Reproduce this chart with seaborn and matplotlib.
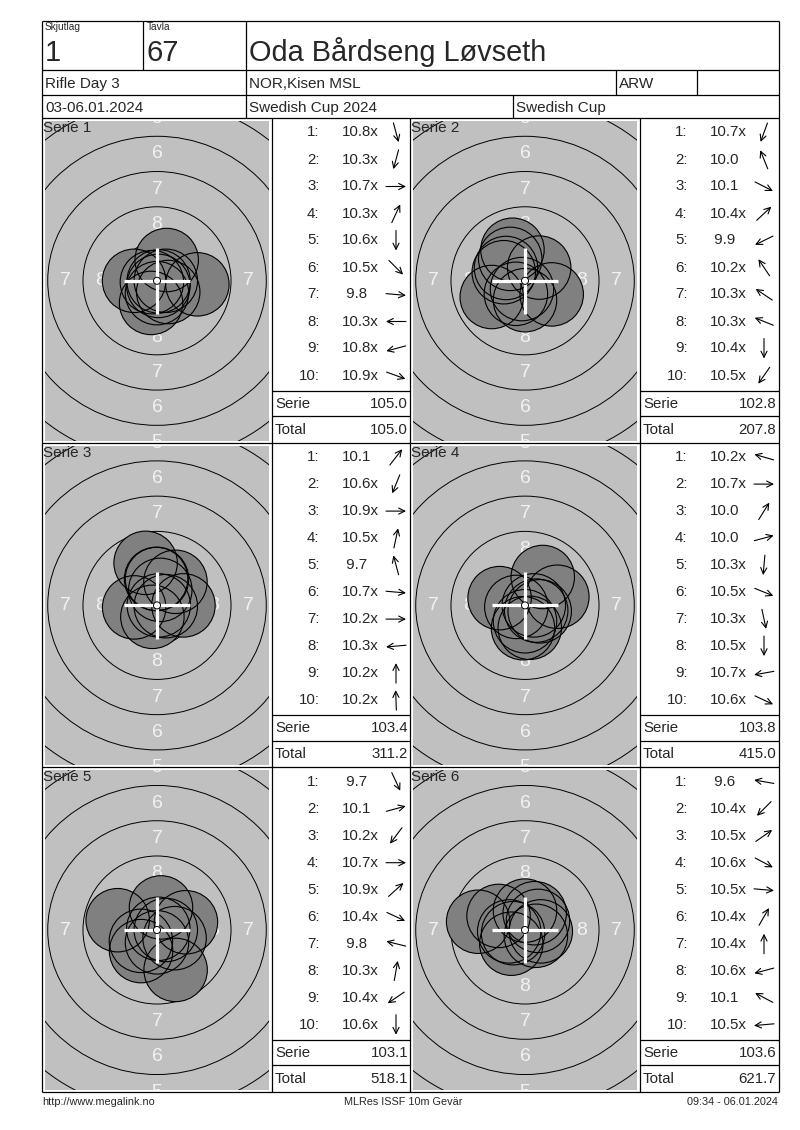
import matplotlib
matplotlib.use("Agg")
import matplotlib.pyplot as plt
from matplotlib.patches import Circle
import seaborn as sns
import numpy as np
import pandas as pd

sns.set_style("white")
plt.rcParams['font.family'] = ['Liberation Sans', 'DejaVu Sans']

# header texts
squad = "1"
lane = "67"
shooter = "Oda Bårdseng Løvseth"
event = "Rifle Day 3"
club = "NOR,Kisen MSL"
klass = "ARW"
dates = "03-06.01.2024"
competition = "Swedish Cup 2024"
cup = "Swedish Cup"
footer_left = "http://www.megalink.no"
footer_mid = "MLRes ISSF 10m Gevär"
footer_right = "09:34 - 06.01.2024"

# shot values and direction (degrees, counter clockwise from 3 o'clock)
shots_1 = ["10.8x", "10.3x", "10.7x", "10.3x", "10.6x", "10.5x", "9.8", "10.3x", "10.8x", "10.9x"]
dirs_1 = [-75, -105, 0, 65, -90, -45, -5, 180, 195, -20]
shots_2 = ["10.7x", "10.0", "10.1", "10.4x", "9.9", "10.2x", "10.3x", "10.3x", "10.4x", "10.5x"]
dirs_2 = [-110, 112, -27, 43, 206, 124, 146, 158, -90, -125]
shots_3 = ["10.1", "10.6x", "10.9x", "10.5x", "9.7", "10.7x", "10.2x", "10.3x", "10.2x", "10.2x"]
dirs_3 = [52, -112, 0, 78, 105, -5, 0, 185, 90, 92]
shots_4 = ["10.2x", "10.7x", "10.0", "10.0", "10.3x", "10.5x", "10.3x", "10.5x", "10.7x", "10.6x"]
dirs_4 = [164, 0, 58, 15, -95, -22, -78, -90, 190, -25]
shots_5 = ["9.7", "10.1", "10.2x", "10.7x", "10.9x", "10.4x", "9.8", "10.3x", "10.4x", "10.6x"]
dirs_5 = [-65, 15, 233, 0, 42, -25, 166, 80, 214, -90]
shots_6 = ["9.6", "10.4x", "10.5x", "10.6x", "10.5x", "10.4x", "10.4x", "10.6x", "10.1", "10.5x"]
dirs_6 = [170, 225, 35, -28, -5, 60, 90, 195, 152, 185]

serie_sums = ["105.0", "102.8", "103.4", "103.8", "103.1", "103.6"]
running_totals = ["105.0", "207.8", "311.2", "415.0", "518.1", "621.7"]

all_shots = [shots_1, shots_2, shots_3, shots_4, shots_5, shots_6]
all_dirs = [dirs_1, dirs_2, dirs_3, dirs_4, dirs_5, dirs_6]

# target geometry (ISSF 10m air rifle, mm)
ring_r = [(45.5 - 5 * (k - 1)) / 2 for k in range(1, 11)]
pellet_r = 2.25
px_per_mm = 14.1

W, H = 800, 1130
fig = plt.figure(figsize=(W / 100, H / 100), dpi=100)

col_dx = 368
row_dy = 324.6
top = 118


def px_axes(x, y, w, h):
    return fig.add_axes([x / W, 1 - (y + h) / H, w / W, h / H])


# targets
for i in range(6):
    col, row = i % 2, i // 2
    gx = 45 + col * col_dx
    gy = top + 3 + row * row_dy
    gw, gh = 224, row_dy - 5
    ax = px_axes(gx, gy, gw, gh)
    ax.set_facecolor('#c0c0c0')
    hx = gw / 2 / px_per_mm
    hy = gh / 2 / px_per_mm
    ax.set_xlim(-hx, hx)
    ax.set_ylim(-hy, hy)
    ax.set_xticks([])
    ax.set_yticks([])
    for s in ax.spines.values():
        s.set_visible(False)

    for r in ring_r[:9]:
        ax.add_patch(Circle((0, 0), r, fill=False, lw=0.7, ec='black', zorder=1))
    for k in range(1, 9):
        rm = (ring_r[k - 1] + ring_r[k]) / 2
        for px, py in [(0, rm), (0, -rm), (rm, 0), (-rm, 0)]:
            if abs(px) > hx or abs(py) > hy + 0.5:
                continue
            ax.text(px, py, str(k), color='#f2f2f2', fontsize=14, ha='center',
                    va='center', zorder=2, clip_on=True)

    vals = np.array([float(v.rstrip('x')) for v in all_shots[i]])
    ang = np.radians(all_dirs[i])
    dist = (10.95 - vals) * 2.5
    df = pd.DataFrame({'x': dist * np.cos(ang), 'y': dist * np.sin(ang)})
    size = (2 * pellet_r * px_per_mm * 72 / 100) ** 2
    sns.scatterplot(data=df, x='x', y='y', s=size, color='#808080',
                    edgecolor='none', linewidth=0, ax=ax, zorder=3, legend=False)
    ax.scatter(df['x'], df['y'], s=size, facecolors='none', edgecolors='black',
               linewidths=0.8, zorder=4)
    ax.set_xlabel('')
    ax.set_ylabel('')

    cl = 2.35
    ax.plot([-cl, cl], [0, 0], color='white', lw=2.3, zorder=5, solid_capstyle='butt')
    ax.plot([0, 0], [-cl, cl], color='white', lw=2.3, zorder=5, solid_capstyle='butt')
    ax.add_patch(Circle((0, 0), ring_r[9], fc='white', ec='black', lw=0.7, zorder=6))

# overlay with frame and text, pixel units
ov = px_axes(0, 0, W, H)
ov.set_xlim(0, W)
ov.set_ylim(H, 0)
ov.set_axis_off()
ov.patch.set_alpha(0)
ov.set_zorder(10)

L, R = 42, 779
bottom = top + 3 * row_dy
lk = dict(color='black', lw=0.9, solid_capstyle='butt')
for y in [21, 70, 95, top, top + row_dy, top + 2 * row_dy, bottom]:
    ov.plot([L, R], [y, y], **lk)
for x in [L, R]:
    ov.plot([x, x], [21, bottom], **lk)
ov.plot([143, 143], [21, 70], **lk)
ov.plot([246, 246], [21, 118], **lk)
ov.plot([616, 616], [70, 95], **lk)
ov.plot([697, 697], [70, 95], **lk)
ov.plot([513, 513], [95, 118], **lk)
for x in [272, 410, 640]:
    ov.plot([x, x], [top, bottom], **lk)

# header
ov.text(45, 27, "Skjutlag", fontsize=7.3, va='center')
ov.text(147, 27, "Tavla", fontsize=7.3, va='center')
ov.text(45, 53, squad, fontsize=21, va='center')
ov.text(147, 53, lane, fontsize=21, va='center')
ov.text(249, 52, shooter, fontsize=20.8, va='center')
ov.text(45, 84, event, fontsize=11, va='center')
ov.text(249, 84, club, fontsize=11, va='center')
ov.text(619, 84, klass, fontsize=11, va='center')
ov.text(45, 108, dates, fontsize=11, va='center')
ov.text(249, 108, competition, fontsize=11, va='center')
ov.text(516, 108, cup, fontsize=11, va='center')

# score columns
for i in range(6):
    col, row = i % 2, i // 2
    x0 = 272 + col * col_dx
    y0 = top + row * row_dy
    ov.text(43 + col * col_dx, y0 + 10, f"Serie {i + 1}", fontsize=11, va='center')
    for j, (v, d) in enumerate(zip(all_shots[i], all_dirs[i])):
        cy = y0 + 14.5 + 27 * j
        ov.text(x0 + 47.5, cy, f"{j + 1}:", fontsize=10.8, ha='right', va='center')
        label = v if len(v.rstrip('x')) == 4 else " " + v
        ov.text(x0 + 69.5, cy, label, fontsize=10.8, ha='left', va='center')
        a = np.radians(d)
        ax_c, hl = x0 + 124, 10
        ov.annotate('', xy=(ax_c + hl * np.cos(a), cy - hl * np.sin(a)),
                    xytext=(ax_c - hl * np.cos(a), cy + hl * np.sin(a)),
                    arrowprops=dict(arrowstyle='->', lw=0.8, color='black',
                                    shrinkA=0, shrinkB=0, mutation_scale=11))
    ly1 = y0 + 272.5
    ly2 = y0 + 298
    ov.plot([x0, x0 + (138 if col == 0 else 139)], [ly1, ly1], **lk)
    ov.plot([x0, x0 + (138 if col == 0 else 139)], [ly2, ly2], **lk)
    ov.text(x0 + 3, y0 + 285.5, "Serie", fontsize=10.8, va='center')
    ov.text(x0 + 136, y0 + 285.5, serie_sums[i], fontsize=10.8, ha='right', va='center')
    ov.text(x0 + 3, y0 + 311.5, "Total", fontsize=10.8, va='center')
    ov.text(x0 + 136, y0 + 311.5, running_totals[i], fontsize=10.8, ha='right', va='center')

# footer
ov.text(42, 1102, footer_left, fontsize=7.8, va='center')
ov.text(403, 1102, footer_mid, fontsize=7.8, ha='center', va='center')
ov.text(778, 1102, footer_right, fontsize=7.8, ha='right', va='center')

fig.savefig("out.png", dpi=100, facecolor='white')
